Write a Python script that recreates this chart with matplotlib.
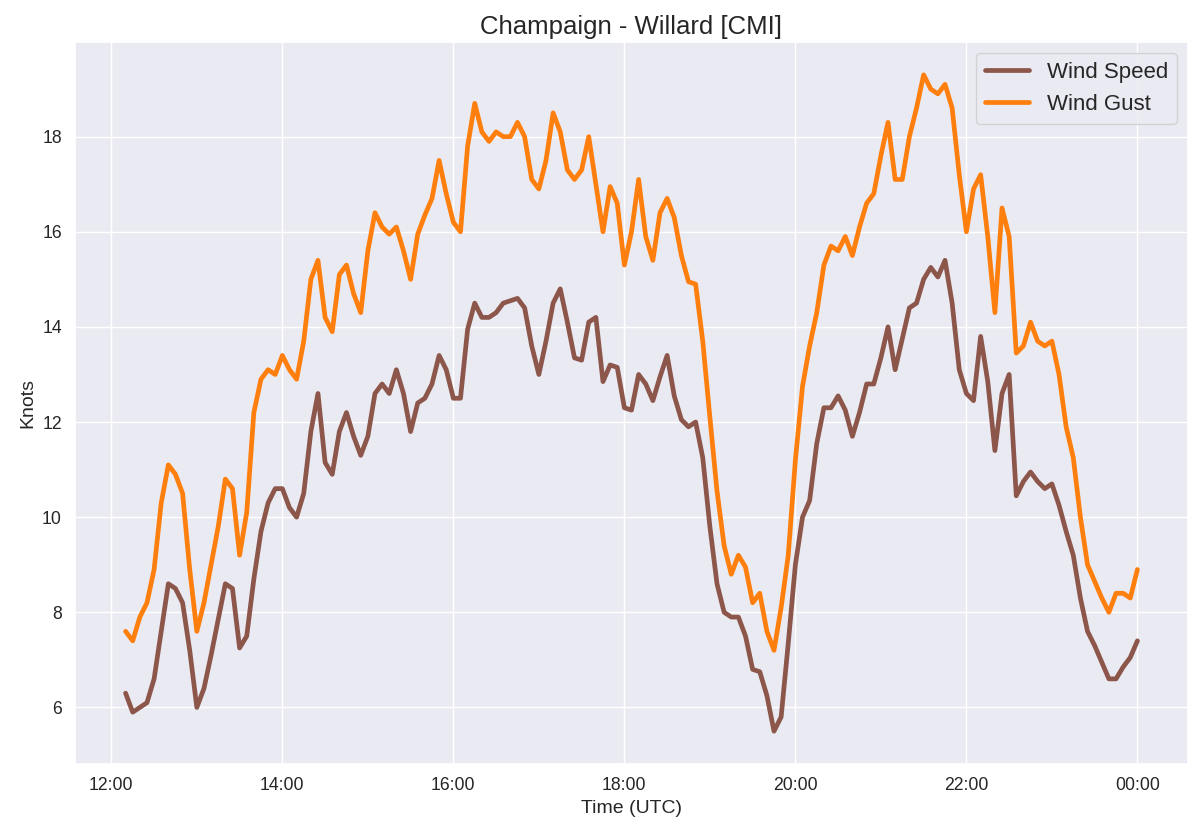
import pandas as pd
import matplotlib
matplotlib.use('Agg')
import matplotlib.pyplot as plt
import matplotlib.dates as mdates
import seaborn as sns

sns.set_theme(style='darkgrid')
plt.rcParams['font.family'] = ['Liberation Sans', 'DejaVu Sans']

# 5-minute samples, 12:10 -> 00:00 UTC
times = pd.date_range('2023-01-01 12:10', '2023-01-02 00:00', freq='5min')

wind_speed = [
    6.3, 5.9, 6.0, 6.1, 6.6, 7.6, 8.6, 8.5, 8.2, 7.2, 6.0, 6.4, 7.1, 7.85, 8.6, 8.5, 7.25, 7.5, 8.7, 9.7, 10.3, 10.6,
    10.6, 10.2, 10.0, 10.5, 11.8, 12.6, 11.15, 10.9, 11.8, 12.2, 11.7, 11.3, 11.7, 12.6, 12.8, 12.6, 13.1, 12.6, 11.8, 12.4, 12.5, 12.8, 13.4, 13.1,
    12.5, 12.5, 13.95, 14.5, 14.2, 14.2, 14.3, 14.5, 14.55, 14.6, 14.4, 13.6, 13.0, 13.7, 14.5, 14.8, 14.1, 13.35, 13.3, 14.1, 14.2, 12.85, 13.2, 13.15,
    12.3, 12.25, 13.0, 12.8, 12.45, 12.95, 13.4, 12.55, 12.05, 11.9, 12.0, 11.25, 9.8, 8.6, 8.0, 7.9, 7.9, 7.5, 6.8, 6.75, 6.25, 5.5, 5.8, 7.35,
    9.0, 10.0, 10.35, 11.55, 12.3, 12.3, 12.55, 12.25, 11.7, 12.2, 12.8, 12.8, 13.35, 14.0, 13.1, 13.75, 14.4, 14.5, 15.0, 15.25, 15.05, 15.4, 14.5, 13.1,
    12.6, 12.45, 13.8, 12.85, 11.4, 12.6, 13.0, 10.45, 10.75, 10.95, 10.75, 10.6, 10.7, 10.25, 9.7, 9.2, 8.3, 7.6, 7.3, 6.95, 6.6, 6.6, 6.85, 7.05, 7.4,
]

wind_gust = [
    7.6, 7.4, 7.9, 8.2, 8.9, 10.3, 11.1, 10.9, 10.5, 8.9, 7.6, 8.2, 9.0, 9.8, 10.8, 10.6, 9.2, 10.1, 12.2, 12.9, 13.1, 13.0,
    13.4, 13.1, 12.9, 13.7, 15.0, 15.4, 14.2, 13.9, 15.1, 15.3, 14.7, 14.3, 15.6, 16.4, 16.1, 15.95, 16.1, 15.6, 15.0, 15.95, 16.35, 16.7, 17.5, 16.8,
    16.2, 16.0, 17.8, 18.7, 18.1, 17.9, 18.1, 18.0, 18.0, 18.3, 18.0, 17.1, 16.9, 17.5, 18.5, 18.1, 17.3, 17.1, 17.3, 18.0, 17.0, 16.0, 16.95, 16.6,
    15.3, 16.0, 17.1, 15.9, 15.4, 16.4, 16.7, 16.3, 15.5, 14.95, 14.9, 13.7, 12.1, 10.55, 9.4, 8.8, 9.2, 8.95, 8.2, 8.4, 7.6, 7.2, 8.1, 9.2,
    11.2, 12.75, 13.6, 14.3, 15.3, 15.7, 15.6, 15.9, 15.5, 16.1, 16.6, 16.8, 17.6, 18.3, 17.1, 17.1, 18.0, 18.6, 19.3, 19.0, 18.9, 19.1, 18.6, 17.2,
    16.0, 16.9, 17.2, 15.9, 14.3, 16.5, 15.9, 13.45, 13.6, 14.1, 13.7, 13.6, 13.7, 13.0, 11.9, 11.25, 10.0, 9.0, 8.65, 8.3, 8.0, 8.4, 8.4, 8.3, 8.9,
]

fig, ax = plt.subplots(figsize=(12, 8.35), dpi=100)
fig.subplots_adjust(left=0.0625, right=0.99, top=0.9497, bottom=0.085)

ax.plot(times, wind_speed, color='tab:brown', lw=3.4, label='Wind Speed',
        solid_capstyle='round', solid_joinstyle='round')
ax.plot(times, wind_gust, color='tab:orange', lw=3.4, label='Wind Gust',
        solid_capstyle='round', solid_joinstyle='round')

ax.xaxis.set_major_locator(mdates.HourLocator(byhour=range(0, 24, 2)))
ax.xaxis.set_major_formatter(mdates.DateFormatter('%H:%M'))
ax.tick_params(labelsize=12.7)

ax.set_title('Champaign - Willard [CMI]', fontsize=18.5)
ax.set_xlabel('Time (UTC)', fontsize=14)
ax.set_ylabel('Knots', fontsize=14)
ax.legend(loc='upper right', fontsize=16)

fig.savefig('out.png', dpi=100)
